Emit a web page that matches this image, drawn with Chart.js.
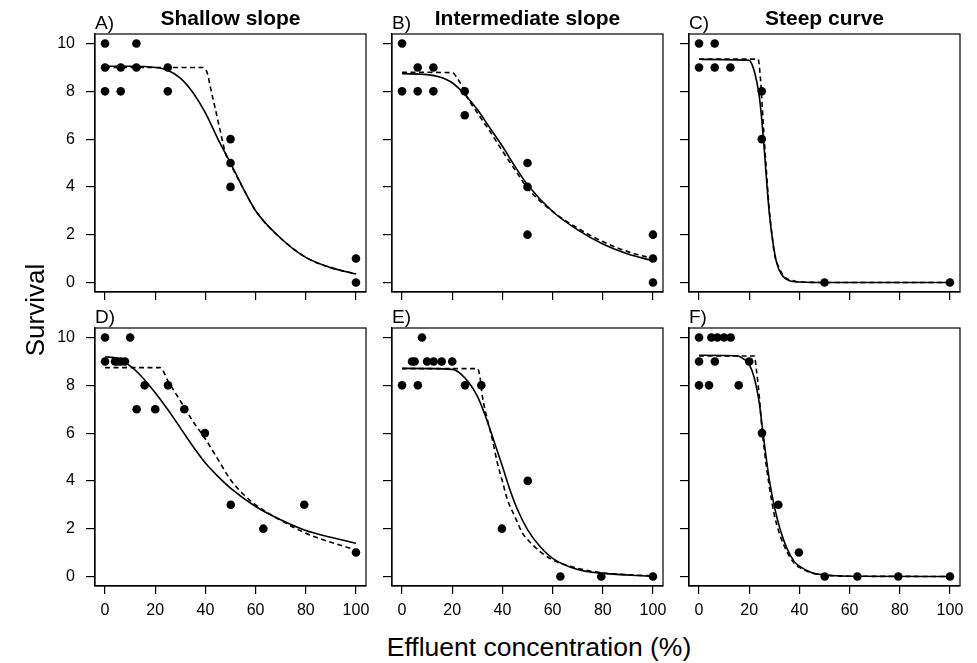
<!DOCTYPE html>
<html>
<head>
<meta charset="utf-8">
<script src="https://cdn.jsdelivr.net/npm/chart.js@4/dist/chart.umd.min.js"></script>
<style>
	html, body { margin: 0; padding: 0; background: #fff; }
	#wrap { position: relative; width: 977px; height: 663px; overflow: hidden; font-family: 'Liberation Sans', Arial, sans-serif; color: #000; }
	#wrap canvas { position: absolute; }
	.lbl { position: absolute; line-height: 1; white-space: nowrap; }
</style>
</head>
<body>
<div id="wrap"></div>
<script>
	'use strict';

	// axis ticks shared by all panels
	const xTicks = [0, 20, 40, 60, 80, 100];
	const yTicks = [0, 2, 4, 6, 8, 10];

	const panelLetters = ['A)', 'B)', 'C)', 'D)', 'E)', 'F)'];
	const panelTitles = ['Shallow slope', 'Intermediate slope', 'Steep curve', '', '', ''];

	// A) shallow slope
	const aConc = [0, 0, 0, 6.25, 6.25, 12.5, 12.5, 25, 25, 50, 50, 50, 100, 100];
	const aSurv = [10, 9, 8, 9, 8, 10, 9, 9, 8, 6, 5, 4, 1, 0];
	const aSolidX = [0, 10, 20, 25, 30, 35, 40, 45, 50, 55, 60, 70, 80, 90, 100];
	const aSolidY = [9.05, 9.05, 9.0, 8.88, 8.55, 7.95, 7.1, 6.0, 5.0, 3.95, 3.0, 1.85, 1.05, 0.62, 0.35];
	const aDashX = [0, 39, 40.8, 42, 44, 46, 48, 50, 55, 60, 70, 80, 90, 100];
	const aDashY = [9.0, 9.0, 8.75, 8.16, 7.24, 6.3, 5.4, 4.95, 3.95, 3.0, 1.85, 1.05, 0.62, 0.36];

	// B) intermediate slope
	const bConc = [0, 0, 6.25, 6.25, 12.5, 12.5, 25, 25, 50, 50, 50, 100, 100, 100];
	const bSurv = [10, 8, 9, 8, 9, 8, 8, 7, 5, 4, 2, 2, 1, 0];
	const bSolidX = [0, 10, 15, 20, 25, 30, 35, 40, 45, 50, 60, 70, 80, 90, 100];
	const bSolidY = [8.74, 8.7, 8.6, 8.36, 7.87, 7.24, 6.47, 5.7, 4.86, 4.09, 2.97, 2.2, 1.61, 1.19, 0.91];
	const bDashX = [0, 20, 22, 24, 26, 30, 35, 40, 45, 50, 60, 70, 80, 90, 100];
	const bDashY = [8.8, 8.78, 8.55, 8.2, 7.75, 7.1, 6.33, 5.5, 4.72, 3.95, 2.97, 2.27, 1.71, 1.29, 1.0];

	// C) steep curve
	const cConc = [0, 6.25, 0, 6.25, 12.5, 25, 25, 50, 100];
	const cSurv = [10, 10, 9, 9, 9, 8, 6, 0, 0];
	const cSolidX = [0, 20, 21, 22, 23, 24, 25, 26, 27, 28, 29.5, 31, 33, 36, 40, 50, 100];
	const cSolidY = [9.34, 9.3, 9.15, 8.85, 8.4, 7.8, 6.82, 5.56, 4.16, 2.9, 1.64, 0.8, 0.31, 0.07, 0.02, 0, 0];
	const cDashX = [0, 23.5, 24.5, 25, 26, 27, 28, 29, 30, 32, 34, 38, 40, 50, 100];
	const cDashY = [9.35, 9.35, 8.5, 7.66, 6.0, 4.44, 3.04, 2.06, 1.22, 0.59, 0.24, 0.06, 0.02, 0, 0];

	// D) shallow slope, more concentrations
	const dConc = [0, 10, 0, 3.98, 5.01, 6.31, 7.94, 15.8, 12.6, 20, 25.1, 31.6, 39.8, 50.1, 63.1, 79.4, 100];
	const dSurv = [10, 10, 9, 9, 9, 9, 9, 8, 7, 7, 8, 7, 6, 3, 2, 3, 1];
	const dSolidX = [0, 5, 10, 15, 20, 25, 30, 35, 40, 45, 50, 60, 70, 80, 90, 100];
	const dSolidY = [9.2, 9.12, 8.81, 8.32, 7.69, 6.99, 6.22, 5.45, 4.75, 4.19, 3.7, 2.93, 2.37, 1.92, 1.64, 1.39];
	const dDashX = [0, 22, 25, 30, 35, 40, 45, 50, 55, 60, 70, 80, 90, 100];
	const dDashY = [8.74, 8.74, 8.2, 7.35, 6.5, 5.75, 4.9, 4.05, 3.45, 3.0, 2.35, 1.81, 1.43, 1.11];

	// E) intermediate slope, more concentrations
	const eConc = [0, 3.98, 5.01, 6.31, 7.94, 10, 12.6, 15.8, 20, 25.1, 31.6, 39.8, 50.1, 63.1, 79.4, 100];
	const eSurv = [8, 9, 9, 8, 10, 9, 9, 9, 9, 8, 8, 2, 4, 0, 0, 0];
	const eSolidX = [0, 20, 25, 30, 33, 36, 40, 43, 46, 50, 55, 60, 70, 80, 100];
	const eSolidY = [8.71, 8.67, 8.32, 7.55, 6.78, 5.87, 4.61, 3.63, 2.8, 1.96, 1.25, 0.76, 0.29, 0.13, 0.01];
	const eDashX = [0, 30, 31, 32, 34, 36, 38, 40, 42, 45, 48, 50, 55, 60, 70, 80, 100];
	const eDashY = [8.7, 8.7, 8.39, 7.55, 6.57, 5.73, 4.75, 3.98, 3.21, 2.5, 1.81, 1.55, 1.04, 0.69, 0.34, 0.15, 0.02];

	// F) steep curve, more concentrations
	const fConc = [0, 4.9, 7.3, 10, 12.6, 0, 6.3, 20, 0, 3.98, 15.8, 25.1, 31.6, 39.8, 50.1, 63.1, 79.4, 100];
	const fSurv = [10, 10, 10, 10, 10, 9, 9, 9, 8, 8, 8, 6, 3, 1, 0, 0, 0, 0];
	const fSolidX = [0, 15, 18, 20, 22, 24, 25, 26, 28, 30, 32, 35, 38, 40, 45, 50, 60, 100];
	const fSolidY = [9.26, 9.24, 9.09, 8.88, 8.32, 7.27, 6.43, 5.59, 4.05, 2.93, 2.09, 1.18, 0.62, 0.43, 0.15, 0.06, 0.01, 0];
	const fDashX = [0, 22, 23, 24, 25, 26, 28, 30, 32, 35, 38, 40, 45, 50, 60, 100];
	const fDashY = [9.23, 9.23, 8.53, 7.55, 6.29, 5.31, 3.77, 2.58, 1.81, 1.04, 0.55, 0.38, 0.14, 0.06, 0.01, 0];

	const series = [
		[aConc, aSurv, aSolidX, aSolidY, aDashX, aDashY],
		[bConc, bSurv, bSolidX, bSolidY, bDashX, bDashY],
		[cConc, cSurv, cSolidX, cSolidY, cDashX, cDashY],
		[dConc, dSurv, dSolidX, dSolidY, dDashX, dDashY],
		[eConc, eSurv, eSolidX, eSolidY, eDashX, eDashY],
		[fConc, fSurv, fSolidX, fSolidY, fDashX, fDashY]
	];

	// layout of the plot boxes
	const boxLefts = [95, 392, 689];
	const boxTops = [34, 328];
	const boxW = 271, boxH = 258;
	const padL = 60, padT = 6, padR = 6, padB = 40;
	const fontFamily = "'Liberation Sans', Arial, sans-serif";

	const wrap = document.getElementById('wrap');

	function zip(xs, ys) {
		return xs.map(function(x, i) { return { x: x, y: ys[i] }; });
	}

	function addLabel(text, left, top, size, extra) {
		const d = document.createElement('div');
		d.className = 'lbl';
		d.textContent = text;
		d.style.left = left + 'px';
		d.style.top = top + 'px';
		d.style.fontSize = size + 'px';
		if (extra) {
			Object.assign(d.style, extra);
		}
		wrap.appendChild(d);
		return d;
	}

	// keep every panel's plot area the same size, whatever its labels need
	function fixSize(prop, value) {
		return function(scale) {
			scale[prop] = value;
			scale.paddingTop = 0;
			scale.paddingBottom = 0;
			scale.paddingLeft = 0;
			scale.paddingRight = 0;
		};
	}

	const boxPlugin = {
		id: 'box',
		afterDraw: function(chart) {
			const a = chart.chartArea;
			const ctx = chart.ctx;
			ctx.save();
			ctx.strokeStyle = '#000';
			ctx.lineWidth = 1.2;
			ctx.strokeRect(a.left, a.top, a.right - a.left, a.bottom - a.top);
			ctx.restore();
		}
	};

	series.forEach(function(s, i) {
		const col = i % 3;
		const row = Math.floor(i / 3);
		const boxL = boxLefts[col];
		const boxT = boxTops[row];

		const canvas = document.createElement('canvas');
		canvas.width = padL + boxW + padR;
		canvas.height = padT + boxH + padB;
		canvas.style.left = (boxL - padL) + 'px';
		canvas.style.top = (boxT - padT) + 'px';
		wrap.appendChild(canvas);

		new Chart(canvas, {
			type: 'scatter',
			data: {
				datasets: [
					{
						data: zip(s[0], s[1]),
						pointRadius: 4.3,
						pointBackgroundColor: '#000',
						pointBorderWidth: 0,
						showLine: false
					},
					{
						data: zip(s[2], s[3]),
						showLine: true,
						pointRadius: 0,
						borderColor: '#000',
						borderWidth: 1.6,
						cubicInterpolationMode: 'monotone'
					},
					{
						data: zip(s[4], s[5]),
						showLine: true,
						pointRadius: 0,
						borderColor: '#000',
						borderWidth: 1.6,
						borderDash: [5, 3.5],
						cubicInterpolationMode: 'monotone'
					}
				]
			},
			options: {
				responsive: false,
				animation: false,
				devicePixelRatio: 1,
				layout: { padding: { top: padT, right: padR, bottom: 0, left: 0 } },
				plugins: { legend: { display: false }, tooltip: { enabled: false } },
				scales: {
					x: {
						type: 'linear',
						min: -4,
						max: 104,
						afterBuildTicks: function(scale) {
							scale.ticks = xTicks.map(function(v) { return { value: v }; });
						},
						afterFit: fixSize('height', padB),
						grid: { drawOnChartArea: false, drawTicks: true, tickLength: 8, color: '#000', lineWidth: 1.2 },
						border: { display: true, color: '#000', width: 1.2 },
						ticks: {
							display: true,
							color: row === 1 ? '#000' : 'rgba(0,0,0,0)',
							padding: 7,
							maxRotation: 0,
							minRotation: 0,
							autoSkip: false,
							font: { family: fontFamily, size: 16 }
						}
					},
					y: {
						type: 'linear',
						min: -0.4,
						max: 10.4,
						afterBuildTicks: function(scale) {
							scale.ticks = yTicks.map(function(v) { return { value: v }; });
						},
						afterFit: fixSize('width', padL),
						grid: { drawOnChartArea: false, drawTicks: true, tickLength: 9, color: '#000', lineWidth: 1.2 },
						border: { display: true, color: '#000', width: 1.2 },
						ticks: {
							display: true,
							color: col === 0 ? '#000' : 'rgba(0,0,0,0)',
							padding: 11,
							autoSkip: false,
							font: { family: fontFamily, size: 16 }
						}
					}
				}
			},
			plugins: [boxPlugin]
		});

		// panel letter and title
		addLabel(panelLetters[i], boxL, boxT - 5 - 0.846 * 19, 19);
		if (panelTitles[i] !== '') {
			addLabel(panelTitles[i], boxL, 25 - 0.846 * 21, 21, { fontWeight: 'bold', width: boxW + 'px', textAlign: 'center' });
		}
	});

	// shared axis titles
	addLabel('Effluent concentration (%)', 239, 656 - 0.846 * 26.5, 26.5, { width: '600px', textAlign: 'center' });
	addLabel('Survival', 35 - 150, 310 - 13, 26, { width: '300px', textAlign: 'center', transform: 'rotate(-90deg)', transformOrigin: '50% 50%' });
</script>
</body>
</html>
